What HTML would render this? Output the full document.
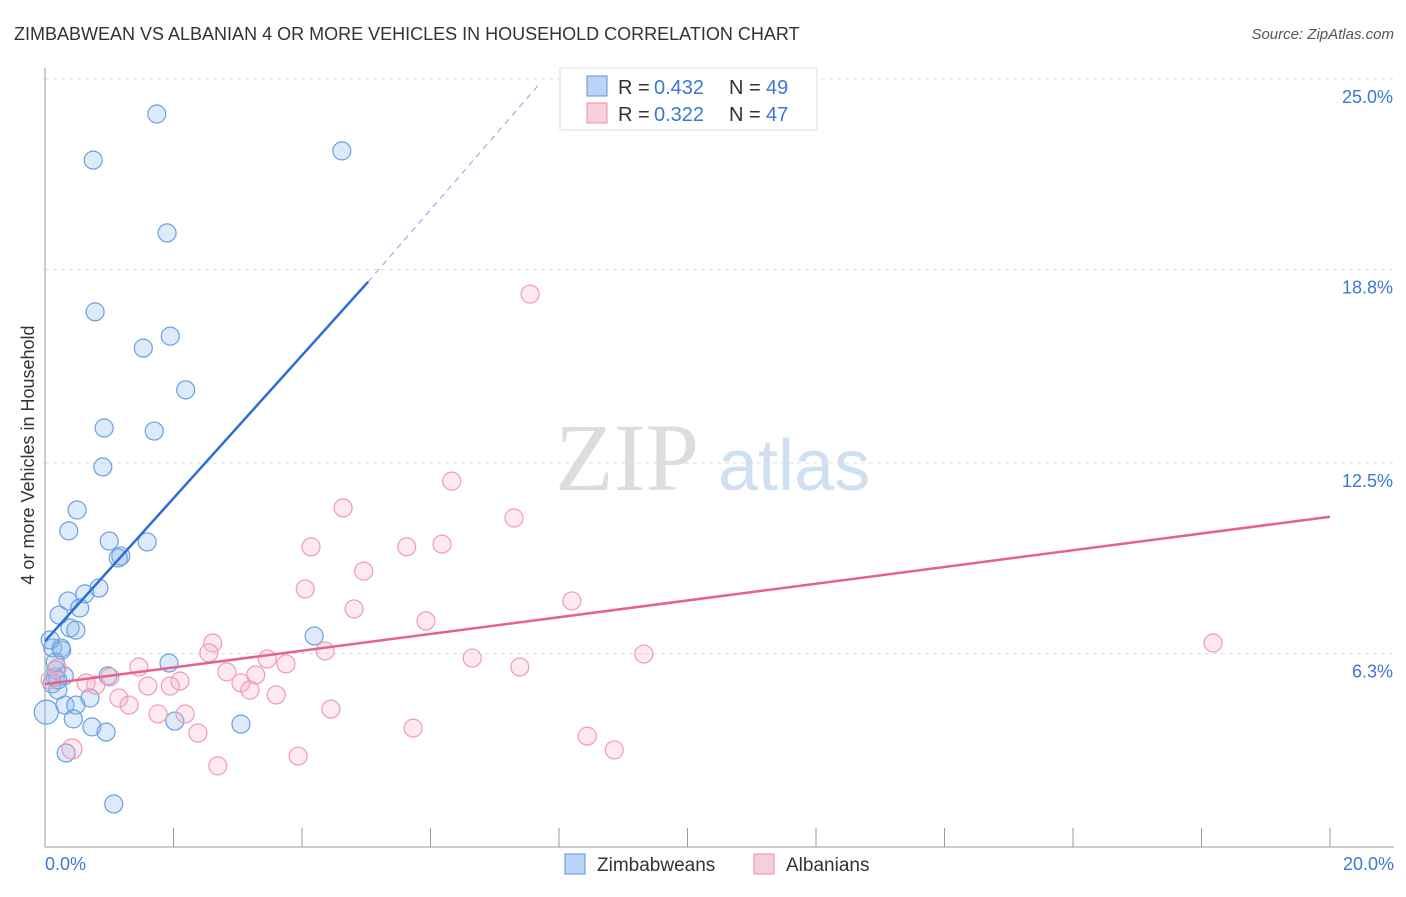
<!DOCTYPE html>
<html><head><meta charset="utf-8"><style>
body{margin:0;background:#fff;font-family:"Liberation Sans",sans-serif;}
#c{position:relative;width:1406px;height:892px;}
</style></head><body>
<div id="c">
<svg id="s" width="1406" height="892"></svg>
</div>
<script>
const bluePx=[[157,114],[93,160],[342,151],[167,233],[95,312],[143,348],[170,336],[186,390],[104,428],[154,431],[103,467],[77,510],[69,531],[109,541],[147,542],[121,556],[118,558],[99,588],[85,594],[68,601],[80,608],[59,615],[70,628],[76,630],[53,648],[61,648],[314,636],[169,663],[108,676],[64,676],[55,677],[56,670],[52,684],[58,690],[90,698],[65,705],[76,705],[73,719],[46,712],[92,727],[106,732],[175,721],[241,724],[66,753],[114,804],[58,680],[50,640],[62,650],[55,662]];
const pinkPx=[[530,294],[452,481],[343,508],[514,518],[311,547],[442,544],[407,547],[364,571],[305,589],[354,609],[572,601],[426,621],[213,643],[209,653],[325,651],[267,659],[286,664],[472,658],[520,667],[644,654],[1213,643],[139,667],[110,677],[180,681],[86,683],[96,685],[148,686],[170,686],[241,683],[256,675],[227,672],[250,690],[276,695],[119,698],[129,705],[158,714],[185,714],[331,709],[413,728],[198,733],[587,736],[614,750],[298,756],[218,766],[72,749],[57,668],[50,680]];
// data values (x %, y %) derived from the reference
const blueX=bluePx.map(p=>+((p[0]-45)/1285*20).toFixed(2));
const blueY=bluePx.map(p=>+((847-p[1])/30.72).toFixed(2));
const pinkX=pinkPx.map(p=>+((p[0]-45)/1285*20).toFixed(2));
const pinkY=pinkPx.map(p=>+((847-p[1])/30.72).toFixed(2));
const yTicks=[25.0,18.8,12.5,6.3];
const yTickLabels=["25.0%","18.8%","12.5%","6.3%"];
const blueLine=[[0,6.7],[5.03,18.4],[7.7,24.85]];
const pinkLine=[[0,5.3],[20,10.75]];
const X=v=>45+v/20*1285, Y=v=>847-v*30.72;
const s=document.getElementById('s');const NS='http://www.w3.org/2000/svg';
function el(t,a,txt){const e=document.createElementNS(NS,t);for(const k in a)e.setAttribute(k,a[k]);if(txt!=null)e.textContent=txt;s.appendChild(e);return e;}
let e;
e=el('text',{x:14,y:40,'font-size':18,fill:'#333'},'ZIMBABWEAN VS ALBANIAN 4 OR MORE VEHICLES IN HOUSEHOLD CORRELATION CHART');


e=el('text',{x:1394,y:39,'font-size':15,fill:'#555','text-anchor':'end','font-style':'italic'},'Source: ZipAtlas.com');


e=el('text',{x:555,y:490,'font-size':96,fill:'#ddd','font-family':'Liberation Serif'},'ZIP');


e=el('text',{x:718,y:490,'font-size':72,fill:'#cfe0f3'},'atlas');


yTicks.forEach((t,i)=>{
 const g=el('line',{x1:45,x2:1394,y1:Y(t),y2:Y(t),stroke:'#ddd','stroke-dasharray':'4,4'});
 
 
 const l=el('text',{x:1393,y:Y(t)+24,'font-size':18,fill:'#3b78d4','text-anchor':'end'},yTickLabels[i]);
 
 
});
e=el('line',{x1:45,x2:45,y1:68,y2:847,stroke:'#999'});


e=el('line',{x1:45,x2:1394,y1:847,y2:847,stroke:'#999'});


for(let i=0;i<=10;i++){const t=el('line',{x1:X(i*2),x2:X(i*2),y1:828,y2:847,stroke:'#999'});
 
 }
e=el('text',{x:45,y:870,'font-size':18,fill:'#3b78d4'},'0.0%');


e=el('text',{x:1394,y:870,'font-size':18,fill:'#3b78d4','text-anchor':'end'},'20.0%');


e=el('text',{x:34,y:455,'font-size':18,fill:'#333','text-anchor':'middle',transform:'rotate(-90 34 455)'},'4 or more Vehicles in Household');


blueX.forEach((x,i)=>{const c=el('circle',{cx:X(x),cy:Y(blueY[i]),r:i==38?12:9,fill:'rgba(140,185,240,0.3)',stroke:'#6a9fe0','stroke-width':1.2});
 
 });
pinkX.forEach((x,i)=>{const c=el('circle',{cx:X(x),cy:Y(pinkY[i]),r:i==44?10:9,fill:'rgba(248,175,198,0.28)',stroke:'#ef9bb5','stroke-width':1.2});
 
 });
e=el('line',{x1:X(blueLine[0][0]),y1:Y(blueLine[0][1]),x2:X(blueLine[1][0]),y2:Y(blueLine[1][1]),stroke:'#2a6fd6','stroke-width':2.5});


e=el('line',{x1:X(blueLine[1][0]),y1:Y(blueLine[1][1]),x2:X(blueLine[2][0]),y2:Y(blueLine[2][1]),stroke:'#8fb4e8','stroke-width':1.2,'stroke-dasharray':'6,5'});


e=el('line',{x1:X(pinkLine[0][0]),y1:Y(pinkLine[0][1]),x2:X(pinkLine[1][0]),y2:Y(pinkLine[1][1]),stroke:'#e4628c','stroke-width':2.5});


e=el('rect',{x:560,y:68,width:257,height:62,fill:'#fff',stroke:'#ddd'});


[[0,'0.432','49','rgba(120,170,235,0.5)','#5b93dc'],[1,'0.322','47','rgba(245,160,185,0.5)','#ec8fab']].forEach(r=>{
 const y=86+r[0]*27;
 const sw=el('rect',{x:587,y:y-10,width:20,height:20,fill:r[3],stroke:r[4]});
 
 
 const a=el('text',{x:618,y:y+8,'font-size':20,fill:'#333'},'R =');
 
 
 const b=el('text',{x:654,y:y+8,'font-size':20,fill:'#3b78d4'},r[1]);
 
 
 const c=el('text',{x:729,y:y+8,'font-size':20,fill:'#333'},'N =');
 
 
 const d=el('text',{x:766,y:y+8,'font-size':20,fill:'#3b78d4'},r[2]);
 
 
});
[[565,'rgba(120,170,235,0.5)','#5b93dc','Zimbabweans',597],[754,'rgba(245,160,185,0.5)','#ec8fab','Albanians',786]].forEach(b=>{
 const r=el('rect',{x:b[0],y:854,width:20,height:20,fill:b[1],stroke:b[2]});
 
 
 const t=el('text',{x:b[4],y:871,'font-size':19,fill:'#333'},b[3]);
 
 
});
</script>
</body></html>
